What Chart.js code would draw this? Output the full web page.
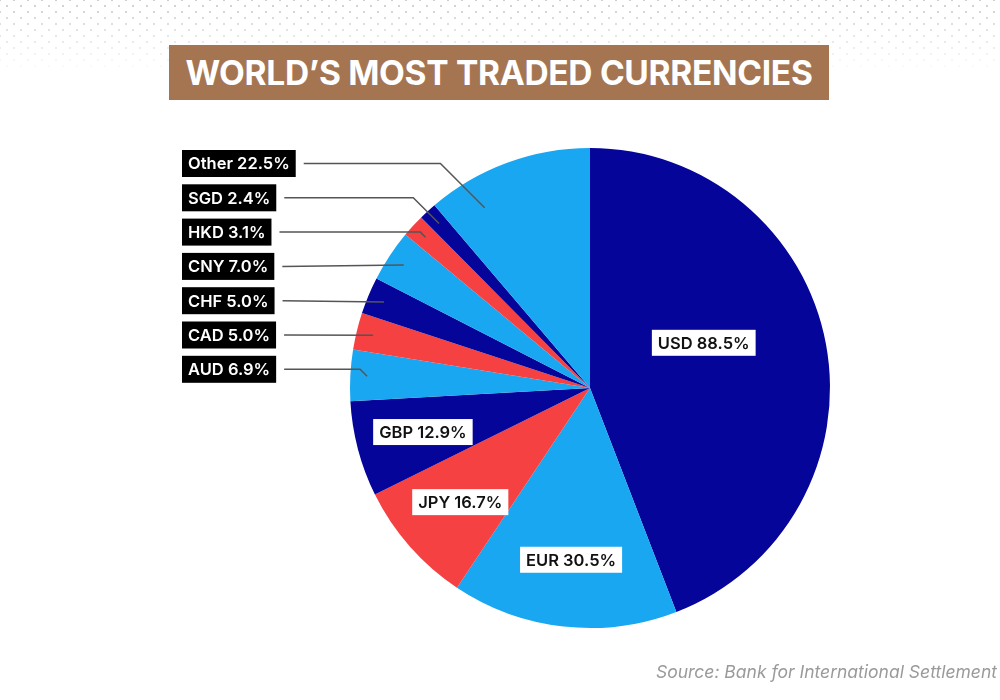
<!DOCTYPE html>
<html>
<head>
<meta charset="utf-8">
<title>World's Most Traded Currencies</title>
<script src="https://cdn.jsdelivr.net/npm/chart.js@4.4.1/dist/chart.umd.min.js"></script>
<style>
  html, body { margin: 0; padding: 0; background: #fff; }
  #wrap { position: relative; width: 1000px; height: 700px; overflow: hidden; font-family: Inter, "Open Sans", sans-serif; }
  #dots {
    position: absolute; left: 0; top: 0; width: 1000px; height: 75px;
    background-image: radial-gradient(circle, #cfcfcf 1px, transparent 1.4px), radial-gradient(circle, #cfcfcf 1px, transparent 1.4px);
    background-size: 14px 12px; background-position: 0 0, 7px 6px;
    -webkit-mask-image: linear-gradient(to bottom, rgba(0,0,0,1), rgba(0,0,0,0));
    mask-image: linear-gradient(to bottom, rgba(0,0,0,1), rgba(0,0,0,0));
  }
  #title {
    position: absolute; left: 169px; top: 45px; width: 660px; height: 55px;
    background: #a57552; color: #fff; font-weight: 700; font-size: 33.5px;
    line-height: 56px; text-align: center; letter-spacing: -0.3px;
  }
  #source {
    position: absolute; right: 3px; top: 661px; color: #9a9a9a;
    font-style: italic; font-size: 17.5px;
  }
  canvas { position: absolute; left: 0; top: 0; }
</style>
</head>
<body>
<div id="wrap">
  <div id="dots"></div>
  <canvas id="myChart" width="1000" height="700"></canvas>
  <div id="title">WORLD’S MOST TRADED CURRENCIES</div>
  <div id="source">Source: Bank for International Settlement</div>
</div>
<script>
const monedas = ["USD", "EUR", "JPY", "GBP", "AUD", "CAD", "CHF", "CNY", "HKD", "SGD", "Other"];
const valores = [88.5, 30.5, 16.7, 12.9, 6.9, 5.0, 5.0, 7.0, 3.1, 2.4, 22.5];
const colores = ["#05059a", "#19a7f1", "#f54142", "#05059a", "#19a7f1", "#f54142", "#05059a", "#19a7f1", "#f54142", "#05059a", "#19a7f1"];

// etiquetas: las 4 primeras dentro del pastel, el resto en columna a la izquierda
const etiquetasPlugin = {
  id: "etiquetas",
  afterDatasetsDraw(chart) {
    const ctx = chart.ctx;
    const arcs = chart.getDatasetMeta(0).data;
    ctx.save();
    ctx.font = "600 16.5px Inter, 'Open Sans', sans-serif";
    ctx.textBaseline = "middle";

    arcs.forEach((arc, i) => {
      const texto = monedas[i] + " " + valores[i].toFixed(1) + "%";
      const w = ctx.measureText(texto).width;

      if (i < 4) {
        // la porcion grande lleva la etiqueta un poco mas arriba
        const t = i === 0 ? 0.43 : 0.5;
        const f = i === 0 ? 0.51 : 0.72;
        const ang = arc.startAngle + (arc.endAngle - arc.startAngle) * t;
        const x = arc.x + Math.cos(ang) * arc.outerRadius * f;
        const y = arc.y + Math.sin(ang) * arc.outerRadius * f;
        ctx.fillStyle = "#fff";
        ctx.fillRect(x - w / 2 - 6, y - 13, w + 12, 26);
        ctx.fillStyle = "#111";
        ctx.textAlign = "center";
        ctx.fillText(texto, x, y + 1);
      } else {
        const k = monedas.length - 1 - i;
        const y = 163.5 + k * 34.3;
        const bx = 182;
        ctx.fillStyle = "#000";
        ctx.fillRect(bx, y - 13.5, w + 12, 27);
        ctx.fillStyle = "#fff";
        ctx.textAlign = "left";
        ctx.fillText(texto, bx + 6, y + 1);

        // linea guia
        const esOtro = i === monedas.length - 1;
        const ang = arc.startAngle + (arc.endAngle - arc.startAngle) * (esOtro ? 0.25 : 0.5);
        const f = esOtro ? 0.87 : 0.93;
        const ex = arc.x + Math.cos(ang) * arc.outerRadius * f;
        const ey = arc.y + Math.sin(ang) * arc.outerRadius * f;
        const dy = Math.abs(ey - y);
        ctx.strokeStyle = "#555";
        ctx.lineWidth = 1.5;
        ctx.beginPath();
        ctx.moveTo(bx + w + 20, y);
        if (dy > 3) {
          ctx.lineTo(ex - dy, y);
        }
        ctx.lineTo(ex, ey);
        ctx.stroke();
      }
    });
    ctx.restore();
  }
};

const config = {
  type: "pie",
  data: {
    labels: monedas,
    datasets: [{
      data: valores,
      backgroundColor: colores,
      borderWidth: 0
    }]
  },
  options: {
    responsive: false,
    animation: false,
    layout: { padding: { left: 350, right: 170, top: 148, bottom: 72 } },
    plugins: {
      legend: { display: false },
      tooltip: { enabled: false }
    }
  },
  plugins: [etiquetasPlugin]
};

new Chart(document.getElementById("myChart"), config);
</script>
</body>
</html>
